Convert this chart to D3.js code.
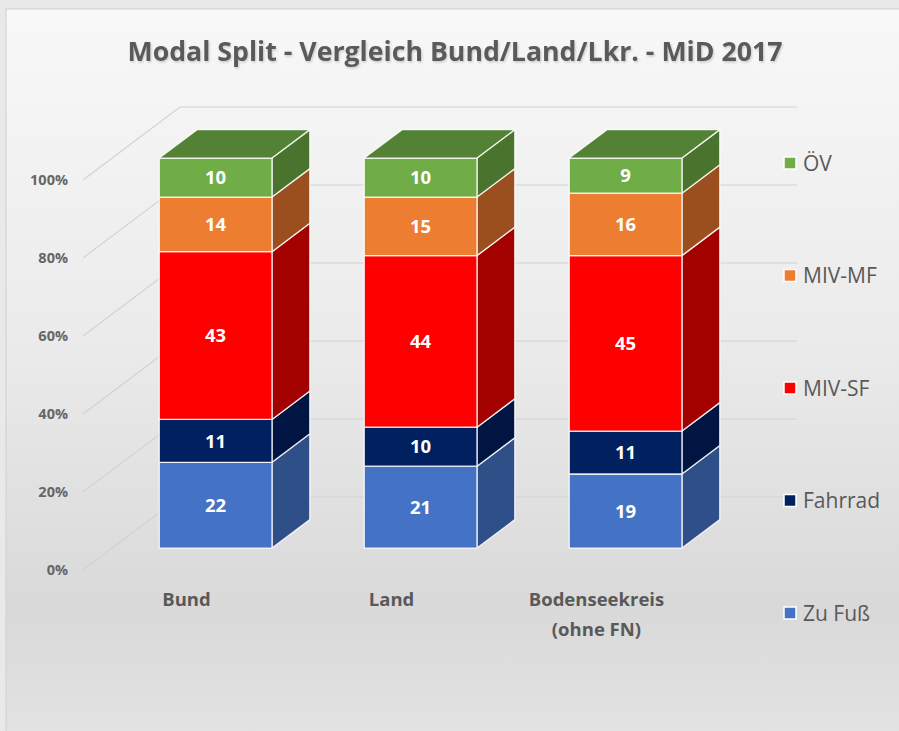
<!DOCTYPE html>
<html>
<head>
<meta charset="utf-8">
<script src="https://cdn.jsdelivr.net/npm/d3@7/dist/d3.min.js"></script>
<style>
  html, body { margin: 0; padding: 0; background: #e9e9e9; }
  svg { display: block; font-family: "Open Sans", "DejaVu Sans", sans-serif; }
</style>
</head>
<body>
<svg id="svg"></svg>
<script>
// data
const categories = ["Bund", "Land", "Bodenseekreis\n(ohne FN)"];
const seriesNames = ["Zu Fuß", "Fahrrad", "MIV-SF", "MIV-MF", "ÖV"];
const zuFuss  = [22, 21, 19];
const fahrrad = [11, 10, 11];
const mivSF   = [43, 44, 45];
const mivMF   = [14, 15, 16];
const oev     = [10, 10, 9];
const yTicks  = [0, 20, 40, 60, 80, 100];

const frontColors = ["#4472c4", "#002060", "#ff0000", "#ed7d31", "#70ad47"];
const sideColors  = ["#2e4f88", "#001542", "#a30000", "#9c4f1e", "#4a742d"];
const topColor = "#548235";

const width = 899;
const height = 731;
const svg = d3.select("#svg").attr("width", width).attr("height", height);

// 3d projection: depth z in [0,1] shifts a point right and up
const DX = 97, DY = 73;
const zFront = 0.30, zBack = 0.69;

const xScale = d3.scaleBand()
    .domain(categories)
    .range([83, 700])
    .paddingInner(0.45)
    .paddingOuter(0.23);

const yScale = d3.scaleLinear()
    .domain([0, 100])
    .range([570, 180]);

function proj(x, v, z) {
    return [x + z * DX, yScale(v) - z * DY];
}

// rows for d3.stack
const rows = categories.map((c, i) => ({
    cat: c,
    "Zu Fuß": zuFuss[i], "Fahrrad": fahrrad[i], "MIV-SF": mivSF[i], "MIV-MF": mivMF[i], "ÖV": oev[i]
}));
const stacked = d3.stack().keys(seriesNames)(rows);

// background
const defs = svg.append("defs");
const grad = defs.append("linearGradient").attr("id", "bg").attr("x1", 0).attr("y1", 0).attr("x2", 0).attr("y2", 1);
grad.append("stop").attr("offset", "0%").attr("stop-color", "#f8f8f8");
grad.append("stop").attr("offset", "45%").attr("stop-color", "#ebebeb");
grad.append("stop").attr("offset", "82%").attr("stop-color", "#d9d9d9");
grad.append("stop").attr("offset", "100%").attr("stop-color", "#e3e3e3");
const shadow = defs.append("filter").attr("id", "shadow").attr("x", "-5%").attr("y", "-20%").attr("width", "110%").attr("height", "140%");
shadow.append("feDropShadow").attr("dx", 1).attr("dy", 1.5).attr("stdDeviation", 1.2)
    .attr("flood-color", "#000").attr("flood-opacity", 0.18);

svg.append("rect")
    .attr("x", 6).attr("y", 9)
    .attr("width", width).attr("height", height)
    .attr("fill", "url(#bg)")
    .attr("stroke", "#cfcfcf");

// title
svg.append("text")
    .attr("x", 455).attr("y", 61)
    .attr("text-anchor", "middle")
    .attr("font-size", "26px")
    .attr("font-weight", "bold")
    .attr("fill", "#5a5a5a")
    .attr("textLength", 655)
    .attr("lengthAdjust", "spacingAndGlyphs")
    .attr("filter", "url(#shadow)")
    .text("Modal Split - Vergleich Bund/Land/Lkr. - MiD 2017");

// gridlines: side wall diagonal + back wall horizontal
const grid = svg.append("g");
const x0 = xScale.range()[0], x1 = xScale.range()[1];
yTicks.forEach(t => {
    const a = proj(x0, t, 0), b = proj(x0, t, 1), c = proj(x1, t, 1);
    grid.append("polyline")
        .attr("points", [a, b, c].map(p => p.join(",")).join(" "))
        .attr("fill", "none")
        .attr("stroke", "#d2d2d2")
        .attr("stroke-width", 1.2);
});

// y axis labels
svg.append("g").selectAll("text")
    .data(yTicks)
    .join("text")
    .attr("x", 68)
    .attr("y", d => yScale(d))
    .attr("dy", "0.35em")
    .attr("text-anchor", "end")
    .attr("font-size", "14.5px")
    .attr("font-weight", "bold")
    .attr("fill", "#666")
    .text(d => d + "%");

// bars
const bars = svg.append("g");
function poly(pts) { return pts.map(p => p.join(",")).join(" "); }

stacked.forEach((layer, si) => {
    layer.forEach((seg, ci) => {
        const xl = xScale(categories[ci]);
        const xr = xl + xScale.bandwidth();
        const v0 = seg[0], v1 = seg[1];
        // side face
        bars.append("polygon")
            .attr("points", poly([proj(xr, v0, zFront), proj(xr, v0, zBack), proj(xr, v1, zBack), proj(xr, v1, zFront)]))
            .attr("fill", sideColors[si])
            .attr("stroke", "#ffffff").attr("stroke-opacity", 0.85).attr("stroke-width", 1.3)
            .attr("stroke-linejoin", "round");
        // front face
        bars.append("polygon")
            .attr("points", poly([proj(xl, v0, zFront), proj(xr, v0, zFront), proj(xr, v1, zFront), proj(xl, v1, zFront)]))
            .attr("fill", frontColors[si])
            .attr("stroke", "#ffffff").attr("stroke-opacity", 0.85).attr("stroke-width", 1.3)
            .attr("stroke-linejoin", "round");
        // top face on the last series
        if (si === stacked.length - 1) {
            bars.append("polygon")
                .attr("points", poly([proj(xl, v1, zFront), proj(xr, v1, zFront), proj(xr, v1, zBack), proj(xl, v1, zBack)]))
                .attr("fill", topColor)
                .attr("stroke", "#ffffff").attr("stroke-opacity", 0.85).attr("stroke-width", 1.3)
                .attr("stroke-linejoin", "round");
        }
        // value label
        const c = proj((xl + xr) / 2, (v0 + v1) / 2, zFront);
        bars.append("text")
            .attr("x", c[0]).attr("y", c[1])
            .attr("dy", "0.36em")
            .attr("text-anchor", "middle")
            .attr("font-size", "18.5px")
            .attr("font-weight", "bold")
            .attr("fill", "#ffffff")
            .text(seg[1] - seg[0]);
    });
});

// category labels
const catG = svg.append("g");
categories.forEach(c => {
    const t = catG.append("text")
        .attr("x", xScale(c) + xScale.bandwidth() / 2)
        .attr("y", 606)
        .attr("text-anchor", "middle")
        .attr("font-size", "18.5px")
        .attr("font-weight", "bold")
        .attr("fill", "#595959");
    c.split("\n").forEach((line, i) => {
        t.append("tspan")
            .attr("x", xScale(c) + xScale.bandwidth() / 2)
            .attr("dy", i === 0 ? 0 : 30)
            .text(line);
    });
});

// legend, top entry is the last series
const legendY = d3.scalePoint()
    .domain(seriesNames.slice().reverse())
    .range([163, 613]);

const legend = svg.append("g").selectAll("g")
    .data(seriesNames.slice().reverse())
    .join("g")
    .attr("transform", d => `translate(784,${legendY(d)})`);

legend.append("rect")
    .attr("x", 0).attr("y", -6)
    .attr("width", 12).attr("height", 12)
    .attr("fill", d => frontColors[seriesNames.indexOf(d)])
    .attr("stroke", "#ffffff")
    .attr("stroke-width", 1.5);

legend.append("text")
    .attr("x", 19)
    .attr("y", 0)
    .attr("dy", "0.36em")
    .attr("font-size", "21px")
    .attr("fill", "#595959")
    .text(d => d);
</script>
</body>
</html>
